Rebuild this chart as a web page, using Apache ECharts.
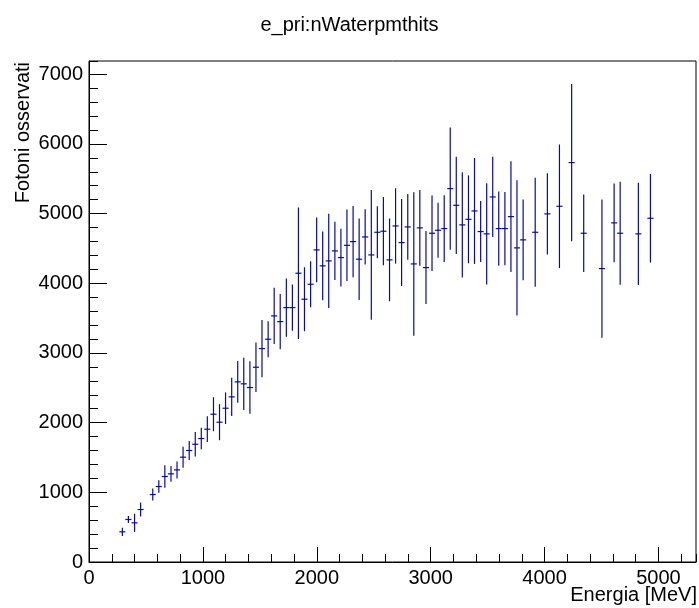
<!DOCTYPE html>
<html>
<head>
<meta charset="utf-8">
<script src="https://cdn.jsdelivr.net/npm/echarts@6/dist/echarts.min.js"></script>
<style>
html,body{margin:0;padding:0;background:#fff;}
#chart{width:699px;height:608px;}
</style>
</head>
<body>
<div id="chart"></div>
<script>
// Bin centres (MeV) of the filled bins
const energy = [293, 346, 400, 453, 560, 613, 666, 720, 773, 826, 880, 933, 986, 1039, 1093, 1146,
  1199, 1253, 1306, 1359, 1413, 1466, 1519, 1573, 1626, 1679, 1733, 1786, 1839, 1892, 1946,
  1999, 2052, 2105, 2159, 2212, 2265, 2319, 2372, 2425, 2479, 2532, 2585, 2639, 2692, 2745,
  2799, 2852, 2905, 2959, 3012, 3065, 3119, 3172, 3225, 3278, 3332, 3385, 3439, 3492, 3545,
  3598, 3652, 3705, 3758, 3812, 3918, 4025, 4131, 4238, 4344, 4504, 4611, 4664, 4824, 4930];
// Mean observed photons per bin
const photons = [433, 610, 562, 753, 968, 1083, 1227, 1265, 1322, 1504, 1600, 1690, 1772, 1906, 2121, 2006,
  2207, 2370, 2585, 2557, 2504, 2795, 3063, 3197, 3532, 3450, 3651, 3651, 4144, 3771, 3986,
  4479, 4250, 4321, 4465, 4369, 4545, 4598, 4345, 4665, 4407, 4732, 4747, 4336, 4823, 4584,
  4809, 4278, 4795, 4225, 4718, 4761, 4785, 5359, 5119, 4838, 4918, 5038, 4742, 4709, 5239,
  4785, 4785, 4957, 4508, 4623, 4732, 4996, 5105, 5732, 4718, 4211, 4867, 4718, 4709, 4933];
// Error (half-length of vertical bar)
const photonErr = [60, 50, 130, 100, 86, 90, 160, 112, 122, 150, 136, 177, 155, 184, 244, 258,
  227, 275, 299, 375, 378, 356, 411, 258, 404, 397, 418, 332, 944, 459, 330,
  464, 493, 677, 418, 414, 514, 512, 586, 397, 930, 373, 490, 593, 541, 624,
  471, 1030, 545, 524, 543, 395, 478, 877, 698, 756, 631, 760, 438, 725, 576,
  533, 526, 794, 971, 579, 782, 583, 887, 1129, 557, 992, 564, 739, 732, 636];
// Half bin width (MeV)
const binHalfWidth = 26.65;
const xMax = 5330;
const yMax = 7190;

const chart = echarts.init(document.getElementById('chart'), null, {renderer: 'canvas'});
const FONT = 'Liberation Sans, Arial, Helvetica, sans-serif';
const COLOR = '#0a0a9e';
const plain = v => String(v);

const data = energy.map((e, i) => [e, photons[i], photonErr[i]]);

const option = {
  animation: false,
  backgroundColor: '#fff',
  title: {
    text: 'e_pri:nWaterpmthits',
    left: 'center',
    top: 10,
    textStyle: {fontFamily: FONT, fontSize: 20, fontWeight: 'normal', color: '#000'}
  },
  grid: {
    left: 89, right: 3, top: 61, bottom: 46,
    show: true, borderColor: '#000', borderWidth: 1, backgroundColor: 'transparent'
  },
  xAxis: [
    {
      type: 'value', min: 0, max: xMax, interval: 1000, position: 'bottom',
      axisLine: {show: true, lineStyle: {color: '#000', width: 1}},
      axisTick: {show: true, inside: true, length: 15, lineStyle: {color: '#000'}},
      axisLabel: {show: true, showMaxLabel: false, formatter: plain, fontFamily: FONT, fontSize: 20, color: '#000', margin: 6},
      splitLine: {show: false}
    },
    {
      type: 'value', min: 0, max: xMax, interval: 200, position: 'bottom',
      axisLine: {show: false},
      axisTick: {show: true, inside: true, length: 8, lineStyle: {color: '#000'}},
      axisLabel: {show: false},
      splitLine: {show: false}
    }
  ],
  yAxis: [
    {
      type: 'value', min: 0, max: yMax, interval: 1000, position: 'left',
      axisLine: {show: true, lineStyle: {color: '#000', width: 1}},
      axisTick: {show: true, inside: true, length: 18, lineStyle: {color: '#000'}},
      axisLabel: {show: true, showMaxLabel: false, formatter: plain, fontFamily: FONT, fontSize: 20, color: '#000', margin: 6},
      splitLine: {show: false}
    },
    {
      type: 'value', min: 0, max: yMax, interval: 200, position: 'left',
      axisLine: {show: false},
      axisTick: {show: true, inside: true, length: 9, lineStyle: {color: '#000'}},
      axisLabel: {show: false},
      splitLine: {show: false}
    }
  ],
  graphic: [
    {
      type: 'text', right: 2, top: 585,
      style: {text: 'Energia [MeV]', fontFamily: FONT, fontSize: 20, fill: '#000'}
    },
    {
      type: 'text', rotation: Math.PI / 2, x: 13, y: 62,
      style: {text: 'Fotoni osservati', fontFamily: FONT, fontSize: 20, fill: '#000', align: 'right', verticalAlign: 'top'}
    }
  ],
  series: [{
    type: 'custom',
    xAxisIndex: 0, yAxisIndex: 0,
    data: data,
    encode: {x: 0, y: 1},
    renderItem: function (params, api) {
      const x = api.value(0), y = api.value(1), e = api.value(2);
      const c = api.coord([x, y]);
      const top = api.coord([x, y + e]);
      const bot = api.coord([x, y - e]);
      const l = api.coord([x - binHalfWidth, y]);
      const r = api.coord([x + binHalfWidth, y]);
      const style = {stroke: COLOR, lineWidth: 1.2};
      return {
        type: 'group',
        children: [
          {type: 'line', shape: {x1: c[0], y1: top[1], x2: c[0], y2: bot[1]}, style: style},
          {type: 'line', shape: {x1: l[0], y1: c[1], x2: r[0], y2: c[1]}, style: style}
        ]
      };
    }
  }]
};
chart.setOption(option);
</script>
</body>
</html>
